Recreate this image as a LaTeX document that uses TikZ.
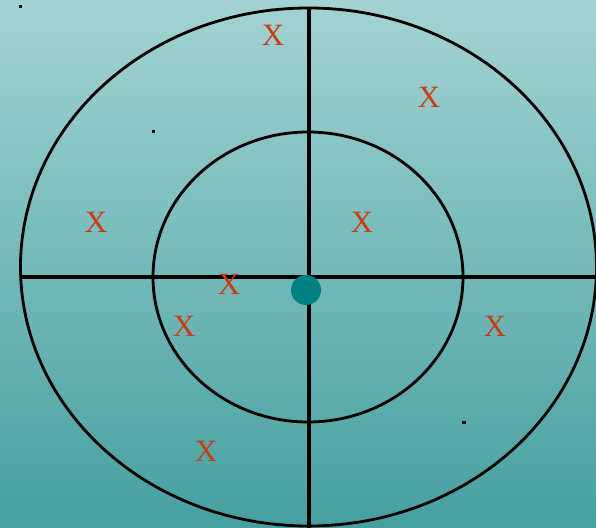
\documentclass[tikz,border=0pt]{standalone}
\usepackage{fontspec}
\setmainfont{Liberation Serif}
\begin{document}
\begin{tikzpicture}[x=1pt,y=-1pt,
  ring/.style={draw=black,line width=2.8pt},
  axis/.style={draw=black,line width=3.2pt},
  xmark/.style={text=xred,font=\fontsize{31}{31}\selectfont,inner sep=0pt},
  speck/.style={fill=black,inner sep=0pt,minimum width=3.5pt,minimum height=3pt}]
\definecolor{xred}{HTML}{D03A10}
\definecolor{topc}{HTML}{A3D3D3}
\definecolor{botc}{HTML}{46A0A0}
\definecolor{dotc}{HTML}{008080}
\useasboundingbox (0,0) rectangle (596,527);
\shade[top color=topc,bottom color=botc] (0,0) rectangle (596,527);
\draw[ring] (308.5,267) ellipse [x radius=288,y radius=259];
\draw[ring] (308,277) ellipse [x radius=155,y radius=145];
\coordinate (L) at (20,277);
\coordinate (R) at (598,277);
\coordinate (T) at (309,8);
\coordinate (B) at (309,530);
\draw[axis] (L) -- (R);
\draw[axis] (T) -- (B);
\node[circle,fill=dotc,minimum size=30pt,inner sep=0pt] (dot) at (306,290) {};
\node[xmark] (x1) at (273,35) {X};
\node[xmark] (x2) at (429,97) {X};
\node[xmark] (x3) at (96,222) {X};
\node[xmark] (x4) at (362,222) {X};
\node[xmark] (x5) at (229,284) {X};
\node[xmark] (x6) at (184,326) {X};
\node[xmark] (x7) at (495,326) {X};
\node[xmark] (x8) at (206,451) {X};
\node[speck] (s1) at (20.5,7) {};
\node[speck] (s2) at (153.5,131.5) {};
\node[speck] (s3) at (464,422.5) {};
\end{tikzpicture}
\end{document}
